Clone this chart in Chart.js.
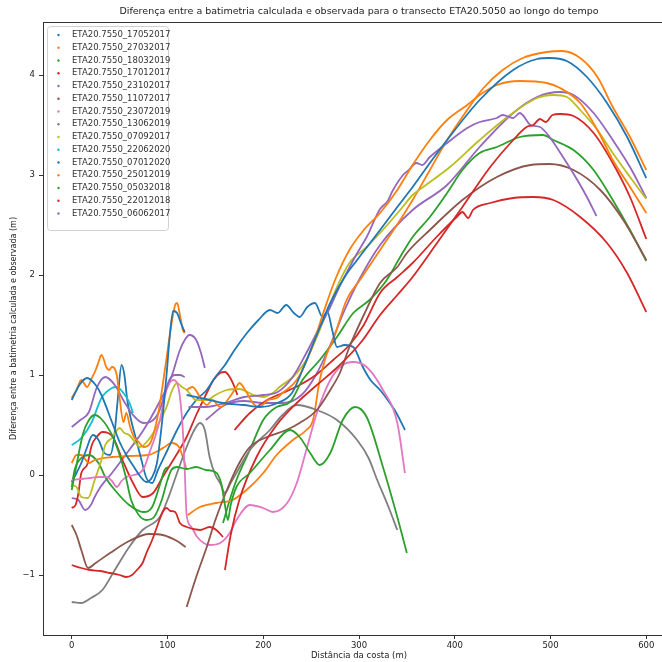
<!DOCTYPE html>
<html><head><meta charset="utf-8">
<script src="https://cdn.jsdelivr.net/npm/chart.js@4"></script>
<style>html,body{margin:0;padding:0;overflow:hidden;background:#fff}#wrap{position:absolute;left:0;top:0;width:680px;height:662px}</style>
</head><body><div id="wrap"><canvas id="c" width="680" height="662"></canvas></div>
<script>
const seriesNames = ["ETA20.7550_17052017","ETA20.7550_27032017","ETA20.7550_18032019","ETA20.7550_17012017","ETA20.7550_23102017","ETA20.7550_11072017","ETA20.7550_23072019","ETA20.7550_13062019","ETA20.7550_07092017","ETA20.7550_22062020","ETA20.7550_07012020","ETA20.7550_25012019","ETA20.7550_05032018","ETA20.7550_22012018","ETA20.7550_06062017"];
const seriesColors = ["#1f77b4","#ff7f0e","#2ca02c","#d62728","#9467bd","#8c564b","#e377c2","#7f7f7f","#bcbd22","#17becf","#1f77b4","#ff7f0e","#2ca02c","#d62728","#9467bd"];
const xTicks = [0,100,200,300,400,500,600];
const yTicks = [-1,0,1,2,3,4];

const s01a = [[0,0.75],[8,0.9],[16,0.97],[25,0.9],[31,0.8],[42,0.53],[50,0.33],[57,0.2],[65,0.08],[72,-0.02],[78,-0.07],[84,-0.02],[89,0.12],[94,0.5],[99,1.0],[103,1.45],[106,1.64],[110,1.62],[114,1.52],[118,1.43]];
const s01b = [[120,0.8],[140,0.76],[158,0.72],[180,0.7],[196,0.68],[215,0.72],[230,0.82],[241,1.05],[255,1.38],[270,1.72],[285,1.98],[298,2.15],[322,2.45],[340,2.68],[356,2.88],[374,3.12],[392,3.35],[426,3.75],[461,4.05],[486,4.16],[499,4.17],[517,4.14],[538,3.98],[559,3.72],[580,3.38],[600,2.97]];
const s02a = [[0,0.77],[5,0.85],[10,0.95],[16,0.88],[21,0.97],[25,1.05],[28,1.13],[31,1.2],[33,1.17],[36,1.08],[39,1.05],[42,1.08],[47,1.0],[50,0.77],[54,0.53],[57,0.62],[61,0.48],[65,0.38],[70,0.33],[75,0.28],[82,0.32],[90,0.6],[98,1.1],[104,1.5],[108,1.7],[110,1.72],[113,1.6],[116,1.45],[118,1.42]];
const s02b = [[120,0.85],[126,0.88],[134,0.78],[141,0.7],[147,0.75],[155,0.68],[165,0.78],[172,0.88],[175,0.92],[183,0.82],[189,0.72],[196,0.68],[205,0.75],[214,0.77],[220,0.82],[235,0.95],[250,1.25],[262,1.6],[275,1.95],[290,2.25],[305,2.45],[322,2.62],[340,2.85],[356,3.1],[374,3.35],[392,3.55],[413,3.7],[426,3.8],[444,3.9],[468,3.94],[496,3.92],[510,3.87],[531,3.72],[549,3.45],[565,3.15],[583,2.88],[600,2.62]];
const s03a = [[0,-0.15],[5,0.1],[12,0.42],[18,0.55],[24,0.6],[31,0.56],[42,0.4],[49,0.23],[56,0.0],[62,-0.25],[70,-0.4],[78,-0.45],[86,-0.42],[94,-0.25],[100,-0.05],[104,0.05],[110,0.08],[120,0.06],[130,0.08],[140,0.05],[150,0.03],[156,-0.08],[160,-0.3],[163,-0.45],[166,-0.3],[172,-0.12],[186,0.02],[207,0.25],[228,0.45],[238,0.38],[249,0.22],[259,0.1],[270,0.22],[283,0.55],[296,0.68],[308,0.58],[325,0.08],[340,-0.42],[350,-0.78]];
const s04a = [[0,-0.9],[10,-0.93],[19,-0.95],[30,-0.96],[40,-0.98],[50,-1.0],[57,-1.02],[63,-1.0],[68,-0.95],[74,-0.88],[78,-0.78],[84,-0.65],[89,-0.52],[95,-0.37],[99,-0.33],[103,-0.36],[108,-0.37],[113,-0.48],[120,-0.52],[134,-0.55],[144,-0.52],[151,-0.55],[158,-0.62]];
const s04b = [[160,-0.95],[166,-0.6],[175,-0.25],[193,0.18],[214,0.5],[235,0.72],[256,0.9],[280,1.1],[304,1.35],[322,1.6],[340,1.8],[356,1.98],[380,2.3],[408,2.68],[437,3.08],[461,3.35],[475,3.48],[482,3.5],[489,3.56],[495,3.53],[502,3.6],[510,3.61],[524,3.59],[545,3.42],[565,3.12],[583,2.78],[600,2.36]];
const s05a = [[0,0.48],[9,0.55],[18,0.63],[26,0.87],[35,0.98],[45,0.9],[55,0.73],[64,0.6],[75,0.52],[82,0.53],[91,0.63],[102,0.95],[108,1.0],[113,1.0],[118,0.98]];
const s05b = [[122,0.68],[140,0.68],[160,0.72],[180,0.78],[200,0.8],[215,0.83],[230,0.97],[245,1.22],[259,1.48],[270,1.68],[278,1.85],[287,2.02],[297,2.2],[308,2.38],[322,2.66],[330,2.74],[335,2.84],[346,3.0],[352,3.05],[360,3.12],[366,3.1],[374,3.18],[392,3.32],[413,3.47],[426,3.53],[444,3.57],[450,3.6],[461,3.57],[468,3.62],[471,3.6],[479,3.5],[489,3.48],[499,3.38],[513,3.18],[528,2.95],[538,2.78],[548,2.59]];
const s06a = [[0,-0.5],[5,-0.6],[10,-0.75],[17,-0.93],[25,-0.88],[40,-0.78],[60,-0.66],[81,-0.59],[95,-0.6],[110,-0.66],[119,-0.72]];
const s06b = [[120,-1.32],[130,-1.02],[141,-0.72],[150,-0.45],[162,-0.15],[175,0.12],[186,0.28],[204,0.38],[224,0.45],[238,0.52],[256,0.65],[270,0.85],[280,1.02],[290,1.28],[305,1.6],[322,1.92],[340,2.08],[350,2.22],[374,2.45],[408,2.75],[444,2.98],[479,3.1],[499,3.11],[524,3.05],[552,2.85],[576,2.55],[600,2.15]];
const s07a = [[0,-0.05],[10,-0.04],[19,-0.03],[28,-0.02],[36,-0.02],[42,-0.06],[47,-0.12],[52,-0.06],[57,-0.02],[65,0.0],[71,0.02],[76,0.08],[81,0.22],[87,0.38],[92,0.55],[99,0.85],[106,0.95],[110,0.92],[113,0.78],[116,0.45],[118,0.05],[120,-0.4],[125,-0.52],[131,-0.62],[144,-0.7],[155,-0.68],[165,-0.58],[172,-0.45],[186,-0.3],[200,-0.33],[210,-0.37],[225,-0.28],[235,-0.08],[245,0.25],[256,0.62],[270,0.95],[283,1.1],[294,1.13],[308,1.08],[325,0.85],[340,0.52],[348,0.02]];
const s08a = [[0,-1.27],[10,-1.28],[20,-1.23],[32,-1.15],[45,-0.95],[60,-0.72],[74,-0.55],[92,-0.42],[100,-0.25],[110,0.02],[120,0.28],[128,0.45],[134,0.52],[139,0.45],[144,0.18],[150,0.0],[155,-0.08],[160,-0.18],[166,-0.08],[172,0.02],[186,0.25],[207,0.45],[220,0.6],[235,0.7],[256,0.65],[277,0.55],[298,0.35],[310,0.17],[319,-0.05],[330,-0.3],[340,-0.55]];
const s09a = [[0,-0.1],[5,-0.12],[10,-0.22],[17,-0.23],[24,-0.05],[31,0.15],[35,0.3],[42,0.37],[50,0.47],[55,0.42],[60,0.4],[66,0.33],[71,0.28],[80,0.35],[90,0.5],[99,0.68],[105,0.85],[110,0.92],[115,0.88],[120,0.85],[130,0.75],[141,0.75],[150,0.8],[162,0.85],[175,0.86],[190,0.8],[200,0.78],[210,0.82],[217,0.88],[231,0.98],[245,1.15],[256,1.38],[266,1.62],[277,1.88],[290,2.12],[308,2.28],[322,2.42],[343,2.65],[356,2.8],[367,2.88],[395,3.08],[426,3.35],[455,3.58],[486,3.77],[503,3.8],[517,3.78],[531,3.65],[549,3.45],[565,3.22],[583,2.98],[600,2.76]];
const s10a = [[0,0.3],[10,0.37],[21,0.53],[31,0.77],[42,0.87],[47,0.88],[54,0.82],[60,0.73],[64,0.62]];
const s11a = [[0,-0.07],[5,0.02],[10,0.12],[15,0.25],[22,0.4],[28,0.35],[34,0.22],[40,0.2],[44,0.35],[48,0.75],[52,1.1],[55,1.0],[58,0.75],[62,0.55],[66,0.4],[72,0.18],[78,-0.03],[84,-0.08],[90,0.05],[100,0.25],[110,0.45],[120,0.62],[130,0.75],[141,0.85],[150,0.98],[160,1.1],[170,1.25],[183,1.42],[195,1.55],[207,1.65],[215,1.62],[224,1.7],[232,1.62],[238,1.58],[246,1.68],[254,1.72],[262,1.58],[267,1.63],[272,1.45],[277,1.28],[285,1.3],[294,1.28],[304,1.08],[312,0.95],[322,0.85],[330,0.75],[339,0.62],[348,0.45]];
const s12a = [[0,0.12],[5,0.2],[10,0.2],[18,0.12],[24,0.15],[42,0.18],[60,0.19],[80,0.2],[90,0.24],[97,0.28],[104,0.32],[112,0.28],[116,0.18],[118,0.12],[120,0.05]];
const s12b = [[121,-0.4],[134,-0.32],[151,-0.28],[168,-0.25],[186,-0.12],[200,0.02],[214,0.2],[231,0.35],[245,0.45],[252,0.55],[259,0.95],[266,1.2],[273,1.35],[287,1.75],[301,1.95],[315,2.15],[329,2.35],[343,2.55],[356,2.75],[374,3.05],[392,3.35],[413,3.65],[430,3.87],[450,4.05],[471,4.17],[496,4.23],[512,4.24],[531,4.17],[549,3.98],[565,3.68],[583,3.38],[600,3.05]];
const s13a = [[0,-0.12],[3,0.05],[10,0.17],[18,0.2],[28,0.12],[35,-0.02],[45,-0.15],[60,-0.3],[75,-0.37],[84,-0.32],[92,-0.1],[97,0.05],[101,0.08]];
const s13b = [[158,-0.48],[165,-0.25],[172,-0.05],[186,0.25],[200,0.55],[214,0.68],[228,0.73],[241,0.95],[259,1.15],[277,1.38],[294,1.62],[311,1.75],[329,1.95],[343,2.18],[356,2.38],[374,2.58],[392,2.82],[408,3.05],[426,3.22],[444,3.28],[468,3.38],[492,3.4],[503,3.35],[524,3.25],[545,3.05],[565,2.75],[583,2.45],[600,2.14]];
const s14a = [[0,-0.33],[4,-0.3],[7,-0.18],[10,0.02],[16,0.1],[21,0.3],[26,0.38],[32,0.43],[38,0.42],[43,0.38],[53,0.15],[64,-0.08],[74,-0.22],[85,-0.18],[95,-0.02],[106,0.15],[120,0.38],[130,0.6],[141,0.82],[148,0.95],[155,1.02],[160,1.03],[165,0.98],[170,0.88],[173,0.8]];
const s14b = [[170,0.45],[186,0.62],[204,0.75],[220,0.82],[238,0.9],[255,1.0],[273,1.15],[290,1.3],[305,1.5],[322,1.82],[340,1.98],[356,2.12],[381,2.38],[402,2.58],[408,2.63],[414,2.57],[419,2.65],[437,2.72],[461,2.77],[482,2.78],[503,2.75],[531,2.58],[559,2.32],[580,2.02],[600,1.63]];
const s15a = [[0,-0.23],[7,-0.25],[14,-0.35],[20,-0.3],[24,-0.22],[30,-0.12],[42,0.02],[60,0.25],[75,0.45],[90,0.7],[104,0.98],[113,1.25],[118,1.35],[123,1.4],[130,1.35],[135,1.22],[139,1.07]];
const s15b = [[140,0.55],[160,0.7],[180,0.74],[200,0.72],[220,0.72],[240,0.8],[255,1.0],[270,1.3],[285,1.65],[300,1.95],[322,2.3],[356,2.65],[392,2.9],[426,3.28],[461,3.62],[486,3.78],[510,3.83],[524,3.8],[545,3.62],[565,3.35],[583,3.08],[600,2.77]];

const seriesSegments = [[s01a,s01b],[s02a,s02b],[s03a],[s04a,s04b],[s05a,s05b],[s06a,s06b],[s07a],[s08a],[s09a],[s10a],[s11a],[s12a,s12b],[s13a,s13b],[s14a,s14b],[s15a,s15b]];

const datasets = [];
seriesSegments.forEach((segs, i) => {
  segs.forEach(seg => {
    datasets.push({
      label: seriesNames[i],
      data: seg.map(p => ({x: p[0], y: p[1]})),
      borderColor: seriesColors[i],
      backgroundColor: seriesColors[i],
      showLine: true,
      pointRadius: 0,
      borderWidth: 1.8,
      cubicInterpolationMode: 'monotone',
      fill: false
    });
  });
});

const FONT = 'DejaVu Sans';

const framePlugin = {
  id: 'frame',
  afterDatasetsDraw(chart) {
    const {ctx, chartArea: a} = chart;
    ctx.save();
    ctx.strokeStyle = '#333';
    ctx.lineWidth = 1;
    ctx.strokeRect(a.left + 0.5, a.top + 0.5, a.right - a.left, a.bottom - a.top);
    ctx.restore();
  }
};

const titlePlugin = {
  id: 'ttl',
  afterDraw(chart) {
    const {ctx, chartArea: a} = chart;
    ctx.save();
    ctx.fillStyle = '#222';
    ctx.font = '9.5px "' + FONT + '"';
    ctx.textAlign = 'center';
    ctx.textBaseline = 'middle';
    ctx.fillText('Diferença entre a batimetria calculada e observada para o transecto ETA20.5050 ao longo do tempo', (a.left + a.right) / 2, 12);
    ctx.restore();
  }
};

const legendPlugin = {
  id: 'lgd',
  afterDraw(chart) {
    const {ctx} = chart;
    ctx.save();
    const bx = 47.5, by = 26.5, bw = 121, bh = 204;
    ctx.globalAlpha = 0.85;
    ctx.fillStyle = '#fff';
    ctx.beginPath();
    ctx.roundRect(bx, by, bw, bh, 3);
    ctx.fill();
    ctx.globalAlpha = 1;
    ctx.strokeStyle = '#d0d0d0';
    ctx.lineWidth = 1;
    ctx.stroke();
    ctx.font = '8.5px "' + FONT + '"';
    ctx.textBaseline = 'middle';
    ctx.textAlign = 'left';
    seriesNames.forEach((n, i) => {
      const y = 35 + i * 12.75;
      ctx.fillStyle = seriesColors[i];
      ctx.beginPath();
      ctx.arc(58.5, y, 1.2, 0, Math.PI * 2);
      ctx.fill();
      ctx.fillStyle = '#333';
      ctx.fillText(n, 72, y);
    });
    ctx.restore();
  }
};

new Chart(document.getElementById('c').getContext('2d'), {
  type: 'scatter',
  data: {datasets},
  options: {
    responsive: false,
    animation: false,
    layout: {padding: {top: 22, right: 5, left: 0, bottom: 0}},
    plugins: {legend: {display: false}, title: {display: false}, tooltip: {enabled: false}},
    scales: {
      x: {
        type: 'linear', min: -30, max: 630,
        afterBuildTicks: s => { s.ticks = xTicks.map(v => ({value: v})); },
        afterFit: s => { s.height = 27; },
        grid: {display: true, drawOnChartArea: false, drawTicks: true, tickLength: 4, color: '#333'},
        border: {display: true, color: '#333'},
        ticks: {font: {family: FONT, size: 8.5}, color: '#222', padding: 2, maxRotation: 0, callback: v => String(v)},
        title: {display: true, text: 'Distância da costa (m)', font: {family: FONT, size: 8.5}, color: '#222', padding: 1}
      },
      y: {
        type: 'linear', min: -1.6, max: 4.53,
        afterBuildTicks: s => { s.ticks = yTicks.map(v => ({value: v})); },
        afterFit: s => { s.width = 43; },
        grid: {display: true, drawOnChartArea: false, drawTicks: true, tickLength: 4, color: '#333'},
        border: {display: true, color: '#333'},
        ticks: {font: {family: FONT, size: 8.5}, color: '#222', padding: 4, callback: v => v < 0 ? '\u2212' + Math.abs(v) : String(v)},
        title: {display: true, text: 'Diferença entre a batimetria calculada e observada (m)', font: {family: FONT, size: 8}, color: '#222', padding: 9}
      }
    }
  },
  plugins: [framePlugin, titlePlugin, legendPlugin]
});
</script>
</body></html>
